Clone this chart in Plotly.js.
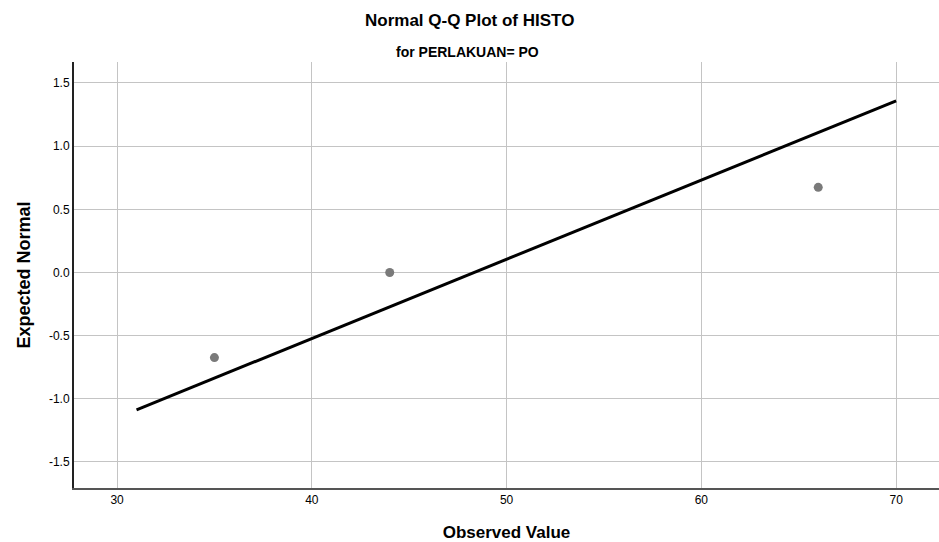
<!DOCTYPE html>
<html><head><meta charset="utf-8">
<script src="https://cdn.plot.ly/plotly-3.0.1.min.js"></script>
<style>html,body{margin:0;padding:0;background:#fff}#c{width:939px;height:542px}</style>
</head><body><div id="c"></div>
<script>
const observed = [35, 44, 66];
const expected = [-0.674, 0, 0.674];
const lineX = [31, 70];
const lineY = [-1.087, 1.359];
const xTicks = [30, 40, 50, 60, 70];
const yTicks = [-1.5, -1.0, -0.5, 0.0, 0.5, 1.0, 1.5];

const traces = [
  {x: lineX, y: lineY, mode: 'lines', line: {color: '#000', width: 3}, hoverinfo: 'skip'},
  {x: observed, y: expected, mode: 'markers', marker: {color: '#7a7a7a', size: 9}}
];
const font = 'Liberation Sans, Arial, sans-serif';
const layout = {
  width: 939, height: 542, showlegend: false,
  paper_bgcolor: '#fff', plot_bgcolor: '#fff',
  margin: {l: 74, r: 0, t: 62, b: 54},
  font: {family: font, color: '#000'},
  xaxis: {range: [27.79, 72.2], tickvals: xTicks, ticktext: xTicks.map(String),
    showgrid: true, gridcolor: '#c4c4c4', gridwidth: 1, zeroline: false,
    showline: true, linecolor: '#555', linewidth: 2, ticks: '', tickfont: {size: 12, family: font},
    title: {text: '<b>Observed Value</b>', font: {size: 17, family: font}, standoff: 22}},
  yaxis: {range: [-1.706, 1.666], tickvals: yTicks, ticktext: yTicks.map(v => v.toFixed(1)),
    showgrid: true, gridcolor: '#c4c4c4', gridwidth: 1, zeroline: false,
    showline: true, linecolor: '#222', linewidth: 2, ticks: '', tickfont: {size: 12, family: font},
    title: {text: '<b>Expected Normal</b>', font: {size: 18, family: font}, standoff: 14}},
  annotations: [
    {text: '<b>Normal Q-Q Plot of HISTO</b>', xref: 'paper', yref: 'paper', x: 0.457, y: 1, yshift: 42,
     xanchor: 'center', yanchor: 'middle', showarrow: false, font: {size: 17, family: font}},
    {text: '<b>for PERLAKUAN= PO</b>', xref: 'paper', yref: 'paper', x: 0.455, y: 1, yshift: 10,
     xanchor: 'center', yanchor: 'middle', showarrow: false, font: {size: 14, family: font}}
  ]
};
Plotly.newPlot('c', traces, layout, {displayModeBar: false, staticPlot: true});
</script></body></html>
